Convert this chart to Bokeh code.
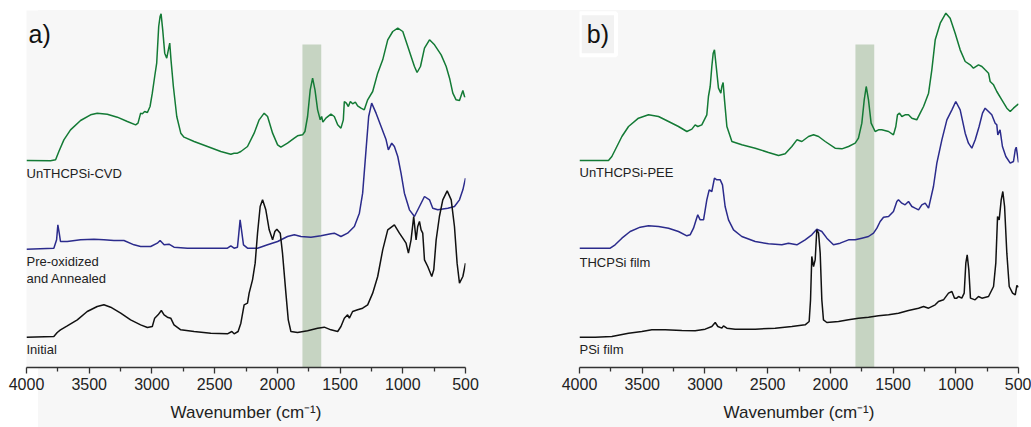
from bokeh.plotting import figure
from bokeh.layouts import row
from bokeh.models import Range1d, Label, FixedTicker
from bokeh.embed import file_html
from bokeh.resources import INLINE

# ---------------- Panel a ----------------
a_cvd_wn = [4000, 3808, 3768, 3742, 3702, 3649, 3569, 3489, 3436, 3356, 3276, 3196, 3130, 3111, 3090, 3076, 3058, 3036, 3015, 2997, 2978, 2962, 2946, 2935, 2927, 2914, 2898, 2882, 2869, 2858, 2848, 2829, 2802, 2770, 2744, 2664, 2557, 2451, 2371, 2345, 2318, 2291, 2238, 2185, 2145, 2105, 2078, 2038, 1998, 1972, 1919, 1865, 1839, 1799, 1780, 1759, 1738, 1719, 1700, 1679, 1658, 1647, 1637, 1613, 1573, 1546, 1519, 1493, 1474, 1466, 1450, 1434, 1418, 1400, 1378, 1360, 1333, 1307, 1280, 1240, 1200, 1160, 1120, 1080, 1040, 1000, 960, 929, 907, 886, 859, 827, 787, 747, 694, 654, 627, 601, 575, 548, 521, 508, 500]
a_cvd_ab = [0.621, 0.620, 0.623, 0.648, 0.683, 0.713, 0.741, 0.758, 0.763, 0.760, 0.751, 0.738, 0.728, 0.733, 0.763, 0.761, 0.768, 0.765, 0.783, 0.823, 0.873, 0.913, 1.023, 1.053, 1.061, 1.013, 0.943, 0.928, 0.953, 0.973, 0.923, 0.843, 0.753, 0.703, 0.691, 0.678, 0.663, 0.648, 0.640, 0.643, 0.643, 0.648, 0.663, 0.703, 0.743, 0.763, 0.753, 0.703, 0.668, 0.661, 0.673, 0.688, 0.695, 0.698, 0.708, 0.753, 0.833, 0.868, 0.833, 0.773, 0.743, 0.753, 0.736, 0.748, 0.760, 0.753, 0.728, 0.718, 0.743, 0.798, 0.793, 0.783, 0.798, 0.791, 0.796, 0.785, 0.778, 0.773, 0.803, 0.828, 0.883, 0.923, 0.983, 1.008, 1.018, 1.008, 0.963, 0.928, 0.903, 0.885, 0.903, 0.958, 0.983, 0.968, 0.938, 0.903, 0.868, 0.823, 0.803, 0.801, 0.831, 0.813, 0.811]

a_ann_wn = [4000, 3782, 3760, 3750, 3739, 3729, 3675, 3569, 3462, 3383, 3303, 3223, 3143, 3090, 3010, 2957, 2935, 2903, 2864, 2824, 2717, 2611, 2504, 2398, 2371, 2345, 2318, 2307, 2297, 2286, 2270, 2238, 2158, 2078, 1998, 1919, 1865, 1812, 1732, 1652, 1573, 1546, 1493, 1440, 1386, 1346, 1320, 1293, 1272, 1248, 1213, 1173, 1133, 1115, 1088, 1067, 1040, 1014, 987, 947, 907, 867, 827, 787, 761, 721, 641, 588, 548, 521, 500]
a_ann_ab = [0.355, 0.358, 0.383, 0.428, 0.403, 0.378, 0.378, 0.383, 0.385, 0.383, 0.381, 0.381, 0.368, 0.363, 0.363, 0.373, 0.381, 0.368, 0.370, 0.361, 0.358, 0.358, 0.358, 0.358, 0.365, 0.358, 0.361, 0.403, 0.443, 0.413, 0.368, 0.358, 0.358, 0.368, 0.378, 0.393, 0.398, 0.393, 0.391, 0.395, 0.401, 0.403, 0.393, 0.403, 0.423, 0.463, 0.523, 0.653, 0.753, 0.793, 0.763, 0.723, 0.683, 0.653, 0.673, 0.663, 0.633, 0.583, 0.523, 0.473, 0.453, 0.483, 0.513, 0.503, 0.478, 0.473, 0.478, 0.483, 0.503, 0.533, 0.568]

a_ini_wn = [4000, 3782, 3755, 3729, 3675, 3595, 3516, 3436, 3383, 3329, 3249, 3170, 3090, 3036, 2997, 2978, 2951, 2925, 2903, 2877, 2850, 2824, 2770, 2664, 2531, 2398, 2363, 2345, 2313, 2291, 2265, 2238, 2225, 2198, 2177, 2158, 2137, 2118, 2092, 2065, 2038, 2020, 2004, 1977, 1959, 1932, 1913, 1892, 1839, 1759, 1679, 1626, 1573, 1519, 1493, 1466, 1440, 1426, 1400, 1360, 1320, 1280, 1240, 1200, 1160, 1120, 1067, 1027, 1000, 974, 955, 934, 913, 894, 881, 867, 854, 841, 827, 801, 769, 753, 734, 708, 681, 646, 614, 588, 567, 548, 521, 500]
a_ini_ab = [0.091, 0.093, 0.105, 0.113, 0.125, 0.143, 0.168, 0.183, 0.188, 0.181, 0.163, 0.143, 0.128, 0.120, 0.123, 0.148, 0.158, 0.171, 0.158, 0.151, 0.148, 0.128, 0.113, 0.108, 0.103, 0.101, 0.108, 0.101, 0.108, 0.133, 0.188, 0.193, 0.223, 0.263, 0.313, 0.403, 0.483, 0.503, 0.473, 0.413, 0.383, 0.408, 0.415, 0.403, 0.343, 0.223, 0.143, 0.108, 0.105, 0.110, 0.118, 0.121, 0.113, 0.108, 0.123, 0.148, 0.158, 0.148, 0.168, 0.173, 0.178, 0.188, 0.223, 0.273, 0.353, 0.413, 0.428, 0.403, 0.388, 0.373, 0.343, 0.383, 0.453, 0.383, 0.423, 0.438, 0.413, 0.403, 0.323, 0.303, 0.273, 0.293, 0.383, 0.453, 0.503, 0.530, 0.503, 0.423, 0.313, 0.253, 0.273, 0.313]

# ---------------- Panel b ----------------
b_pee_wn = [4000, 3769, 3742, 3702, 3662, 3609, 3530, 3450, 3370, 3290, 3211, 3144, 3104, 3078, 3057, 3025, 2985, 2972, 2958, 2945, 2934, 2924, 2910, 2892, 2873, 2865, 2855, 2844, 2825, 2785, 2706, 2599, 2493, 2413, 2360, 2307, 2267, 2227, 2174, 2134, 2094, 2041, 1962, 1908, 1855, 1802, 1776, 1749, 1730, 1714, 1696, 1675, 1643, 1616, 1590, 1536, 1497, 1478, 1465, 1449, 1430, 1404, 1377, 1350, 1311, 1284, 1257, 1217, 1191, 1164, 1124, 1079, 1045, 1005, 965, 925, 885, 859, 819, 792, 766, 739, 726, 699, 673, 633, 593, 566, 540, 500]
b_pee_ab = [0.621, 0.621, 0.633, 0.663, 0.693, 0.723, 0.748, 0.758, 0.753, 0.738, 0.723, 0.708, 0.715, 0.728, 0.723, 0.728, 0.758, 0.813, 0.843, 0.903, 0.943, 0.953, 0.903, 0.838, 0.823, 0.843, 0.855, 0.803, 0.723, 0.678, 0.668, 0.658, 0.645, 0.636, 0.641, 0.663, 0.683, 0.678, 0.693, 0.698, 0.693, 0.678, 0.658, 0.656, 0.663, 0.673, 0.688, 0.733, 0.803, 0.843, 0.803, 0.733, 0.708, 0.713, 0.713, 0.708, 0.698, 0.723, 0.758, 0.763, 0.753, 0.758, 0.758, 0.748, 0.743, 0.763, 0.783, 0.823, 0.893, 0.983, 1.033, 1.063, 1.048, 1.003, 0.953, 0.918, 0.908, 0.898, 0.908, 0.903, 0.893, 0.883, 0.858, 0.848, 0.828, 0.803, 0.778, 0.768, 0.778, 0.791]

b_thc_wn = [4000, 3755, 3716, 3662, 3596, 3516, 3450, 3370, 3290, 3211, 3144, 3118, 3091, 3070, 3057, 3038, 3011, 2985, 2966, 2945, 2924, 2905, 2878, 2860, 2839, 2812, 2772, 2706, 2599, 2493, 2387, 2334, 2267, 2201, 2148, 2108, 2068, 2028, 1975, 1922, 1855, 1802, 1749, 1696, 1656, 1629, 1603, 1576, 1536, 1497, 1470, 1457, 1430, 1404, 1377, 1350, 1324, 1297, 1271, 1244, 1217, 1178, 1151, 1111, 1071, 1031, 1000, 965, 925, 899, 872, 845, 814, 787, 766, 739, 713, 686, 673, 665, 647, 628, 601, 566, 540, 526, 518, 500]
b_thc_ab = [0.358, 0.358, 0.368, 0.388, 0.408, 0.421, 0.425, 0.423, 0.418, 0.408, 0.395, 0.398, 0.418, 0.443, 0.458, 0.443, 0.443, 0.503, 0.533, 0.528, 0.568, 0.563, 0.563, 0.548, 0.483, 0.443, 0.413, 0.393, 0.378, 0.371, 0.368, 0.373, 0.368, 0.383, 0.398, 0.415, 0.408, 0.388, 0.368, 0.373, 0.383, 0.383, 0.388, 0.393, 0.403, 0.418, 0.438, 0.451, 0.453, 0.468, 0.498, 0.503, 0.493, 0.488, 0.498, 0.483, 0.478, 0.473, 0.488, 0.493, 0.478, 0.543, 0.613, 0.683, 0.743, 0.773, 0.798, 0.773, 0.703, 0.673, 0.658, 0.683, 0.723, 0.763, 0.778, 0.768, 0.758, 0.733, 0.728, 0.698, 0.713, 0.663, 0.633, 0.613, 0.618, 0.653, 0.661, 0.615]

b_psi_wn = [4000, 3875, 3742, 3609, 3503, 3423, 3317, 3184, 3078, 2998, 2945, 2918, 2897, 2865, 2852, 2825, 2759, 2599, 2440, 2307, 2201, 2169, 2158, 2148, 2134, 2121, 2108, 2094, 2081, 2068, 2055, 2028, 1935, 1855, 1776, 1696, 1616, 1536, 1457, 1377, 1297, 1257, 1217, 1164, 1138, 1098, 1058, 1031, 1010, 992, 978, 952, 933, 920, 909, 896, 883, 846, 819, 792, 739, 699, 681, 667, 654, 638, 625, 611, 593, 574, 547, 526, 513, 500]
b_psi_ab = [0.091, 0.091, 0.093, 0.103, 0.108, 0.113, 0.113, 0.111, 0.110, 0.115, 0.123, 0.135, 0.123, 0.118, 0.125, 0.118, 0.115, 0.115, 0.118, 0.123, 0.128, 0.138, 0.203, 0.333, 0.303, 0.323, 0.413, 0.403, 0.343, 0.203, 0.143, 0.135, 0.138, 0.143, 0.148, 0.151, 0.155, 0.158, 0.163, 0.171, 0.178, 0.183, 0.178, 0.188, 0.198, 0.203, 0.223, 0.228, 0.208, 0.208, 0.213, 0.208, 0.223, 0.313, 0.338, 0.293, 0.208, 0.203, 0.213, 0.208, 0.213, 0.243, 0.313, 0.453, 0.443, 0.503, 0.528, 0.483, 0.343, 0.243, 0.223, 0.218, 0.246, 0.241]

band_hi = [1800]
band_lo = [1650]
band_top = [0.969]

tick_values = [4000, 3500, 3000, 2500, 2000, 1500, 1000, 500]
minor_values = [3750, 3250, 2750, 2250, 1750, 1250, 750]

a_labels = [("UnTHCPSi-CVD", 0.583), ("Pre-oxidized", 0.318), ("and Annealed", 0.268), ("Initial", 0.053)]
b_labels = [("UnTHCPSi-PEE", 0.584), ("THCPSi film", 0.314), ("PSi film", 0.053)]

GREEN = "#137a35"
BLUE = "#2b2b8c"
BLACK = "#111111"
BG = "#f7f7f7"
FONT = "Liberation Sans"


def make_panel(tag, width, left, right, series, labels, tag_x, css_bg, tag_box):
    p = figure(width=width, height=427, output_backend="svg", toolbar_location=None,
               x_range=Range1d(4000, 500), y_range=Range1d(0, 1.071),
               min_border_left=left, min_border_right=right, min_border_top=10,
               min_border_bottom=60)
    p.background_fill_color = BG
    p.border_fill_color = None
    p.styles = {"background": css_bg}
    p.outline_line_color = None
    p.grid.visible = False
    p.yaxis.visible = False

    p.quad(left=band_hi, right=band_lo, bottom=[0], top=band_top,
           fill_color="#c6d4c2", line_color=None)

    for wn, ab, col in series:
        p.line(wn, ab, line_color=col, line_width=1.5)

    ax = p.xaxis[0]
    ax.ticker = FixedTicker(ticks=tick_values, minor_ticks=minor_values)
    ax.axis_line_color = "#333333"
    ax.axis_line_width = 1.3
    ax.major_tick_line_color = "#333333"
    ax.major_tick_line_width = 1.3
    ax.minor_tick_line_color = "#333333"
    ax.minor_tick_line_width = 1.3
    ax.major_tick_out = 6
    ax.major_tick_in = 0
    ax.minor_tick_out = 4
    ax.minor_tick_in = 0
    ax.major_label_text_font = FONT
    ax.major_label_text_font_size = "16px"
    ax.major_label_text_color = "#222222"
    ax.major_label_standoff = 4
    ax.axis_label = "Wavenumber (cm\u207b\u00b9)"
    ax.axis_label_text_font = FONT
    ax.axis_label_text_font_size = "17px"
    ax.axis_label_text_font_style = "normal"
    ax.axis_label_text_color = "#222222"
    ax.axis_label_standoff = 10

    for txt, yv in labels:
        p.add_layout(Label(x=4000, y=yv, text=txt, text_font=FONT,
                           text_font_size="13px", text_color="#222222",
                           text_align="left", text_baseline="middle"))

    if tag_box:
        p.add_layout(Label(x=tag_x, y=1.0, text=tag, text_font=FONT,
                           text_font_size="25px", text_color="#111111",
                           text_align="left", text_baseline="middle",
                           background_fill_color="#f2f2f2", padding=7,
                           border_line_color="white", border_line_width=4))
    else:
        p.add_layout(Label(x=tag_x, y=1.0, text=tag, text_font=FONT,
                           text_font_size="25px", text_color="#111111",
                           text_align="left", text_baseline="middle"))
    return p


bg_a = "linear-gradient(#f7f7f7, #f7f7f7) 38px 10px / 477px 417px no-repeat, #ffffff"
bg_b = "linear-gradient(#f7f7f7, #f7f7f7) 0px 10px / 502px 417px no-repeat, #ffffff"

pa = make_panel("a)", 515, 26, 50,
                [(a_cvd_wn, a_cvd_ab, GREEN), (a_ann_wn, a_ann_ab, BLUE), (a_ini_wn, a_ini_ab, BLACK)],
                a_labels, 3984, bg_a, False)
pb = make_panel("b)", 516, 64, 13,
                [(b_pee_wn, b_pee_ab, GREEN), (b_thc_wn, b_thc_ab, BLUE), (b_psi_wn, b_psi_ab, BLACK)],
                b_labels, 3998, bg_b, True)

layout = row(pa, pb, spacing=0)
open("out.html", "w").write(file_html(layout, INLINE))
